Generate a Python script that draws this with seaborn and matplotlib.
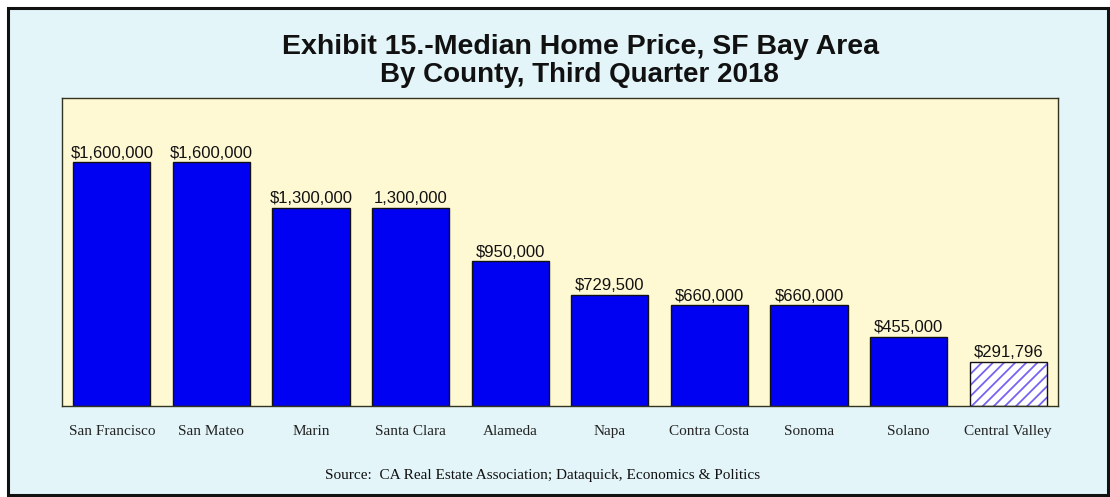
import matplotlib
matplotlib.use("Agg")
import matplotlib.pyplot as plt
import seaborn as sns
from matplotlib.colors import to_rgba
from matplotlib.patches import Rectangle

counties = ["San Francisco", "San Mateo", "Marin", "Santa Clara", "Alameda",
            "Napa", "Contra Costa", "Sonoma", "Solano", "Central Valley"]
prices = [1600000, 1600000, 1300000, 1300000, 950000,
          729500, 660000, 660000, 455000, 291796]
value_labels = ["$1,600,000", "$1,600,000", "$1,300,000", "1,300,000", "$950,000",
                "$729,500", "$660,000", "$660,000", "$455,000", "$291,796"]
title_line1 = "Exhibit 15.-Median Home Price, SF Bay Area"
title_line2 = "By County, Third Quarter 2018"
source_text = "Source:  CA Real Estate Association; Dataquick, Economics & Politics"

sns.set_theme(style="white")
plt.rcParams["font.family"] = ["Liberation Sans", "DejaVu Sans"]
plt.rcParams["hatch.linewidth"] = 1.3

W, H = 1110, 497
fig = plt.figure(figsize=(W / 100, H / 100), dpi=100, facecolor="white")

# outer panel
fig.patches.append(Rectangle((8 / W, 2 / H), 1100 / W, 487 / H, transform=fig.transFigure,
                             facecolor="#E3F5F9", edgecolor="#111111", linewidth=2.2, zorder=-10))

ax = fig.add_axes([62 / W, 91 / H, 996 / W, 308 / H])
ax.set_facecolor("#FFF9D3")

bar_colors = ["#0000F2"] * (len(counties) - 1) + ["#FFFFFF"]
sns.barplot(x=counties, y=prices, hue=counties, palette=bar_colors, legend=False,
            width=0.775, edgecolor="#111111", linewidth=1.0, saturation=1, ax=ax)

last = ax.patches[len(counties) - 1]
last.set_hatch("///")
last._hatch_color = to_rgba("#7564F2")

labels_iter = iter(value_labels)
for cont in ax.containers:
    labs = [next(labels_iter) for _ in cont]
    ax.bar_label(cont, labels=labs, padding=1, fontsize=12, color="#111111",
                 family=["Liberation Sans"])

ax.set_xlim(-0.5, len(counties) - 0.5)
ax.set_ylim(0, 2020000)
ax.set_yticks([])
ax.set_xlabel("")
ax.set_ylabel("")
ax.tick_params(axis="x", length=0, pad=14)
for t in ax.get_xticklabels():
    t.set_fontfamily(["Liberation Serif"])
    t.set_fontsize(11)
    t.set_color("#222222")
for s in ax.spines.values():
    s.set_visible(True)
    s.set_color("#333322")
    s.set_linewidth(1.0)

fig.text(580 / W, 1 - 47 / H, title_line1, ha="center", va="center",
         fontsize=20.5, fontweight="bold", color="#111111")
fig.text(579 / W, 1 - 75 / H, title_line2, ha="center", va="center",
         fontsize=20, fontweight="bold", color="#111111")
fig.text(543 / W, 1 - 475 / H, source_text, ha="center", va="center",
         fontsize=11, family=["Liberation Serif"], color="#111111")

fig.savefig("out.png", dpi=100, facecolor="white")
